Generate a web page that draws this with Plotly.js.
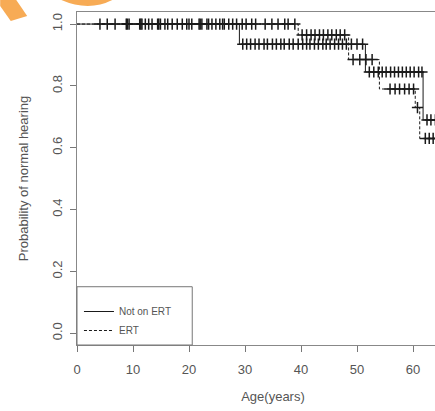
<!DOCTYPE html>
<html>
<head>
<meta charset="utf-8">
<script src="https://cdn.plot.ly/plotly-3.0.1.min.js"></script>
<style>
html,body{margin:0;padding:0;overflow:hidden;background:#fff;width:435px;height:411px;}
#chart{width:480px;height:411px;}
</style>
</head>
<body>
<div id="chart"></div>
<script>
// Kaplan-Meier step data (event ages and survival after event)
var notErtTimes = [0, 29, 51.5, 61.8, 65];
var notErtSurv  = [1.0, 0.935, 0.845, 0.69, 0.69];
var notErtCensorAges = [4.1, 5.4, 6.8, 8.8, 9.3, 11.2, 11.6, 12.2, 12.8, 13.4, 14.4, 14.9, 15.7, 17.0, 17.9, 18.8, 19.6, 20.5, 21.8, 22.3, 23.2, 24.1, 25.5, 26.3, 27.1, 27.8, 28.5,
  29.6, 30.3, 31.0, 31.8, 32.5, 33.4, 34.0, 34.9, 35.6, 36.4, 37.0, 37.9, 38.6, 39.5, 40.3, 41.0, 41.6, 42.4, 43.1, 43.9, 44.5, 45.2, 46.0, 46.7, 47.4, 48.1, 49.0, 50.0, 51.0,
  52.2, 53.0, 53.8, 54.5, 55.2, 56.0, 56.7, 57.4, 58.1, 58.8, 59.5, 60.2, 61.0, 61.6,
  62.5, 63.2, 64.0];

var ertTimes = [0, 39.5, 48.5, 54, 60.4, 61.2, 65];
var ertSurv  = [1.0, 0.965, 0.885, 0.79, 0.73, 0.63, 0.63];
var ertCensorAges = [9.0, 11.4, 14.6, 16.2, 20.0, 22.0, 23.5, 24.8, 26.0, 29.5, 30.2, 31.2, 31.9, 33.6, 34.8, 35.9, 37.1, 37.7, 38.9,
  40.2, 41.0, 41.8, 42.5, 43.3, 44.0, 44.8, 45.5, 46.3, 47.0, 47.8,
  49.3, 50.5, 51.6, 52.7,
  55.9, 56.8, 57.6, 58.5, 59.3, 60.1,
  60.8,
  62.2, 62.9, 63.6, 64.3];

var xTickVals = [0, 10, 20, 30, 40, 50, 60];
var yTickVals = [0.0, 0.2, 0.4, 0.6, 0.8, 1.0];
var yTickText = ["0.0", "0.2", "0.4", "0.6", "0.8", "1.0"];
var seriesNames = ["Not on ERT", "ERT"];

function stepAt(times, surv, age) {
  var v = surv[0];
  for (var i = 0; i < times.length; i++) { if (times[i] <= age) v = surv[i]; }
  return v;
}

var lineColor = '#1a1a1a';
var traces = [
  {x: notErtTimes, y: notErtSurv, type: 'scatter', mode: 'lines', name: seriesNames[0],
   line: {shape: 'hv', color: lineColor, width: 1}},
  {x: ertTimes, y: ertSurv, type: 'scatter', mode: 'lines', name: seriesNames[1],
   line: {shape: 'hv', color: lineColor, width: 1, dash: '3px,2px'}},
  {x: notErtCensorAges, y: notErtCensorAges.map(function(a){return stepAt(notErtTimes, notErtSurv, a);}),
   type: 'scatter', mode: 'markers', showlegend: false, hoverinfo: 'skip',
   marker: {symbol: 'cross-thin', size: 8, line: {color: lineColor, width: 1.5}}},
  {x: ertCensorAges, y: ertCensorAges.map(function(a){return stepAt(ertTimes, ertSurv, a);}),
   type: 'scatter', mode: 'markers', showlegend: false, hoverinfo: 'skip',
   marker: {symbol: 'cross-thin', size: 8, line: {color: lineColor, width: 1.5}}}
];

var axisFont = {family: 'Liberation Sans, Arial, sans-serif', size: 13, color: '#555'};
var layout = {
  width: 480, height: 411,
  margin: {l: 77, r: 11, t: 12, b: 66},
  paper_bgcolor: '#fff', plot_bgcolor: '#fff',
  showlegend: true,
  legend: {x: 0.005, y: 0.0, xanchor: 'left', yanchor: 'bottom', bgcolor: 'rgba(0,0,0,0)',
           borderwidth: 0, font: {family: 'Liberation Sans, Arial, sans-serif', size: 10, color: '#555'},
           tracegroupgap: 0, itemwidth: 30},
  xaxis: {range: [0, 70], tickvals: xTickVals, ticks: 'outside', ticklen: 6, tickcolor: '#777',
          ticklabelstandoff: 6,
          showline: true, mirror: true, linecolor: '#888', linewidth: 1, showgrid: false, zeroline: false,
          tickfont: axisFont, title: {text: 'Age(years)', font: axisFont, standoff: 16}},
  yaxis: {range: [-0.038, 1.039], tickvals: yTickVals, ticktext: yTickText, ticks: 'outside', ticklen: 6,
          tickcolor: '#777', tickangle: -90, ticklabelstandoff: 3,
          showline: true, mirror: true, linecolor: '#888', linewidth: 1, showgrid: false, zeroline: false,
          tickfont: axisFont, title: {text: 'Probability of normal hearing', font: axisFont, standoff: 18}},
  shapes: [
    {type: 'rect', xref: 'paper', yref: 'paper', x0: 0, x1: 0.294, y0: 0, y1: 0.175,
     line: {color: '#777', width: 1}, fillcolor: 'rgba(0,0,0,0)'},
    {type: 'path', xref: 'paper', yref: 'paper', layer: 'above',
     path: 'M -0.196 1.036 L -0.155 1.036 L -0.127 0.988 L -0.169 0.973 L -0.196 1.018 Z',
     fillcolor: '#f7ab55', line: {width: 0}},
    {type: 'path', xref: 'paper', yref: 'paper', layer: 'above',
     path: 'M -0.04 1.036 Q 0.03 1.0 0.09 1.036 Z',
     fillcolor: '#f7ab55', line: {width: 0}}
  ]
};

Plotly.newPlot('chart', traces, layout, {displayModeBar: false, staticPlot: true});
</script>
</body>
</html>
